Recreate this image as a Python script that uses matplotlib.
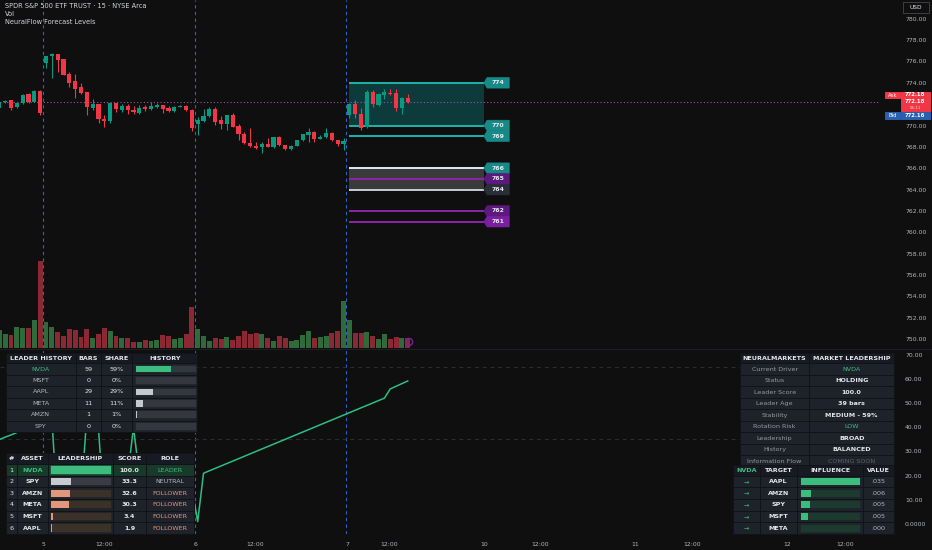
import matplotlib.pyplot as plt
import matplotlib.patches as mpatches
import numpy as np

# ---- price data (15 min bars, 0 = last bars of the day before "5") ----
opens = [771.61, 772.20, 772.39, 771.71, 772.08, 772.92, 772.24, 773.27,
         775.82, 776.51, 776.67, 776.20, 774.79, 774.17, 773.58, 773.11, 771.67, 772.02, 770.61,
         770.43, 772.11, 771.45, 771.86, 771.49, 771.21, 771.74, 771.55, 771.77, 771.92, 771.61,
         771.36, 771.77, 771.80, 771.49,
         770.11, 770.43, 770.89, 771.55, 770.49, 770.11, 770.99, 769.96, 769.21, 768.37, 768.12,
         767.96, 768.27, 768.02, 768.96, 768.15, 767.80, 768.08, 768.65, 769.11, 769.43, 768.74,
         768.93, 769.27, 768.65, 768.27,
         770.98, 772.01, 771.08, 769.83, 773.17, 771.92, 772.89, 773.08, 773.01, 771.67, 772.61]
highs = [772.24, 772.39, 772.42, 772.11, 772.92, 773.08, 773.30, 773.33,
         776.55, 776.76, 776.70, 776.24, 774.98, 774.79, 773.95, 773.15, 772.45, 772.05, 770.96,
         772.14, 772.14, 772.02, 772.02, 771.83, 771.89, 771.89, 772.24, 772.08, 771.96, 771.83,
         771.83, 771.92, 771.89, 771.55,
         770.83, 771.52, 771.77, 771.77, 770.89, 771.02, 771.21, 770.11, 769.43, 769.74, 768.49,
         768.49, 768.86, 768.93, 769.02, 768.18, 768.18, 768.68, 769.21, 769.74, 769.46, 769.11,
         769.74, 769.43, 768.65, 768.80,
         772.08, 772.39, 771.61, 773.32, 773.32, 773.01, 773.39, 773.45, 773.39, 772.64, 772.92]
lows = [771.55, 772.08, 771.45, 771.67, 772.02, 772.08, 772.20, 770.99,
        775.36, 774.42, 774.98, 774.70, 773.64, 772.55, 772.95, 770.99, 771.45, 770.27, 769.89,
        770.27, 771.27, 771.30, 771.05, 771.08, 771.08, 771.36, 771.45, 771.61, 771.21, 771.30,
        771.24, 771.71, 771.36, 769.52,
        769.11, 770.36, 770.77, 770.05, 769.65, 769.58, 769.83, 768.65, 768.27, 767.96, 767.77,
        767.46, 767.96, 767.93, 768.08, 767.74, 767.71, 768.05, 768.58, 768.49, 768.49, 768.71,
        768.86, 768.55, 768.08, 767.71,
        770.67, 770.67, 769.58, 769.74, 771.76, 771.86, 772.45, 772.83, 771.36, 771.08, 772.14]
closes = [772.20, 772.33, 771.61, 772.08, 772.86, 772.24, 773.23, 771.14,
          776.51, 776.70, 776.14, 774.73, 774.02, 773.39, 773.02, 771.71, 772.02, 770.58, 770.43,
          772.11, 771.55, 771.83, 771.45, 771.30, 771.67, 771.52, 771.86, 771.96, 771.52, 771.36,
          771.74, 771.86, 771.45, 769.74,
          770.52, 770.89, 771.55, 770.36, 770.11, 770.99, 769.89, 769.18, 768.33, 768.08, 767.93,
          768.27, 768.02, 768.90, 768.15, 767.77, 768.12, 768.65, 769.18, 769.43, 768.74, 768.96,
          769.30, 768.65, 768.27, 768.55,
          771.98, 771.05, 769.74, 773.17, 771.98, 772.92, 773.11, 772.92, 771.67, 772.61, 772.18]
volumes = [530, 410, 400, 620, 610, 590, 830, 2600,
           790, 620, 470, 350, 560, 530, 320, 560, 290, 410, 590, 520, 370, 310, 290, 190, 180,
           230, 210, 240, 400, 350, 260, 300, 410, 1220,
           560, 350, 210, 290, 280, 340, 250, 370, 520, 410, 440, 410, 290, 200, 350, 290, 210,
           250, 380, 500, 290, 330, 360, 460, 500, 1410,
           850, 460, 440, 480, 370, 260, 410, 280, 320, 310, 310]

# lower pane line (leader score)
leader_line = [34.9, 35.9, 36.8, 37.8, 38.7, 39.7, 40.6, 41.6, 42.5, 43.5,
               5.0, 6.2, 7.4, 8.6, 10.0, 45.0, 42.0, 39.0, 5.0, 8.0,
               11.0, 14.0, 20.0, 40.0, 20.0, 21.0, 22.0, 23.0, 24.0, 25.0,
               26.0, 27.0, 28.0, 15.0, 1.0, 21.0, 22.0, 23.0, 24.0, 25.0,
               26.0, 27.0, 28.0, 29.0, 30.0, 31.0, 32.0, 33.0, 34.0, 35.0,
               36.0, 37.0, 38.0, 39.0, 40.0, 41.0, 42.0, 43.0, 44.0, 45.0,
               46.0, 47.0, 48.0, 49.0, 50.0, 51.0, 52.0, 55.8, 56.9, 58.0, 59.1]

session_breaks = [7.5, 33.5, 59.5]
xtick_pos = [7.6, 17.9, 33.6, 43.9, 59.6, 66.9, 83.1, 92.7, 109.0, 118.7, 135.0, 145.0]
xtick_labels = ['5', '12:00', '6', '12:00', '7', '12:00', '10', '12:00', '11', '12:00', '12', '12:00']

ask_price = 772.18
bid_price = 772.16
countdown = '06:11'

# forecast levels
level_prices = [774, 770, 769, 766, 765, 764, 762, 761]
level_lines = ['#1fb3ab', '#1fb3ab', '#1fb3ab', '#d6eef0', '#8e24aa', '#c9ccd2', '#8e24aa', '#8e24aa']
level_tags = ['#178a88', '#178a88', '#178a88', '#178a88', '#5c1a7e', '#2a2e39', '#5c1a7e', '#7b1fa2']
zones = [(770, 774, '#0d3b3c'), (764, 766, '#3a3a3a')]
level_from, level_to = 60, 83

# tables
hist_assets = ['NVDA', 'MSFT', 'AAPL', 'META', 'AMZN', 'SPY']
hist_bars = [59, 0, 29, 11, 1, 0]

rank_assets = ['NVDA', 'SPY', 'AMZN', 'META', 'MSFT', 'AAPL']
rank_scores = [100.0, 33.3, 32.6, 30.3, 3.4, 1.9]
rank_roles = ['LEADER', 'NEUTRAL', 'FOLLOWER', 'FOLLOWER', 'FOLLOWER', 'FOLLOWER']

info_labels = ['Current Driver', 'Status', 'Leader Score', 'Leader Age', 'Stability',
               'Rotation Risk', 'Leadership', 'History', 'Information Flow']
info_values = ['NVDA', 'HOLDING', '100.0', '39 bars', 'MEDIUM - 59%', 'LOW', 'BROAD',
               'BALANCED', 'COMING SOON']

flow_targets = ['AAPL', 'AMZN', 'SPY', 'MSFT', 'META']
flow_values = [0.0352, 0.0062, 0.0053, 0.0046, 0.0001]

# ---- style ----
BG = '#0f0f0f'
UP = '#089981'
DOWN = '#f23645'
GREEN = '#3dbd7d'
TXT = '#b2b5be'
WHITE = '#e6e7ea'
HEAD = '#171a22'
ROW = '#1e222b'
EDGE = '#111317'
SALMON = '#e2967b'

W, H = 932, 550
fig = plt.figure(figsize=(W / 100, H / 100), dpi=100, facecolor=BG)


def box(l, t, r, b):
    return [l / W, 1 - b / H, (r - l) / W, (b - t) / H]


ax_vol = fig.add_axes(box(0, 0, 880, 348))
ax = fig.add_axes(box(0, 0, 880, 348))
ax_low = fig.add_axes(box(0, 349, 880, 534))
ax_px = fig.add_axes([0, 0, 1, 1])

xlim = (0.115, 150.95)
for a in (ax_vol, ax, ax_low):
    a.set_xlim(*xlim)
    a.set_facecolor('none')
    for s in a.spines.values():
        s.set_visible(False)
ax_vol.set_facecolor(BG)
ax_vol.set_xticks([])
ax_vol.set_yticks([])
ax.set_xticks([])

idx = np.arange(len(opens))
o = np.array(opens)
c = np.array(closes)
cols = np.where(c >= o, UP, DOWN)

# volume
vcols = np.where(c >= o, '#2f6b3a', '#8c2833')
ax_vol.bar(idx, volumes, width=0.85, color=vcols)
ax_vol.set_ylim(0, 10400)

# candles
ax.vlines(idx, lows, highs, colors=cols, lw=0.8, zorder=3)
ax.bar(idx, np.maximum(np.abs(c - o), 0.05), bottom=np.minimum(o, c), width=0.72,
       color=cols, zorder=4)
ax.set_ylim(749.17, 781.75)
ax.yaxis.tick_right()
ax.set_yticks(np.arange(750, 781, 2))
ax.set_yticklabels([f'{v:.2f}' for v in np.arange(750, 781, 2)])
ax.tick_params(axis='y', length=0, pad=18, labelsize=4.4, labelcolor=TXT)

ax.axhline(closes[-1], color='#9b4fae', ls=(0, (1, 2)), lw=0.8, zorder=2)
for xb in session_breaks:
    ax.axvline(xb, color='#2f62c8', ls=(0, (3, 3)), lw=0.8, zorder=1)
    ax_low.axvline(xb, color='#2f62c8', ls=(0, (3, 3)), lw=0.8, zorder=1)

# forecast zones and levels
for lo, hi, fc in zones:
    ax.fill_between([level_from, level_to], lo, hi, color=fc, zorder=1.5, lw=0)
for p, lc, tc in zip(level_prices, level_lines, level_tags):
    ax.hlines(p, level_from, level_to, colors=lc, lw=1.4, zorder=2.5)
    ax.add_patch(mpatches.Polygon([(level_to + 0.05, p), (level_to + 0.6, p + 0.5),
                                   (level_to + 4.4, p + 0.5), (level_to + 4.4, p - 0.5),
                                   (level_to + 0.6, p - 0.5)],
                                  closed=True, facecolor=tc, edgecolor=tc, lw=0.4, zorder=5))
    ax.text(level_to + 2.5, p, f'{p}', color='#e8eaed', fontsize=4.4, fontweight='bold',
            ha='center', va='center', zorder=6)

# lower pane
ax_low.plot(idx, leader_line, color='#2ebd85', lw=1.1, zorder=3)
for lv in (35, 65):
    ax_low.axhline(lv, color='#2a2e39', ls=(0, (4, 4)), lw=0.7, zorder=1)
ax_low.set_ylim(-4.1, 72.3)
ax_low.yaxis.tick_right()
ax_low.set_yticks(np.arange(0, 71, 10))
ax_low.set_yticklabels(['0.0000'] + [f'{v:.2f}' for v in np.arange(10, 71, 10)])
ax_low.tick_params(axis='y', length=0, pad=18, labelsize=4.4, labelcolor=TXT)
ax_low.set_xticks(xtick_pos)
ax_low.set_xticklabels(xtick_labels)
ax_low.tick_params(axis='x', length=0, pad=5.5, labelsize=4.4, labelcolor=TXT)

# ---- pixel overlay ----
ax_px.set_xlim(0, W)
ax_px.set_ylim(H, 0)
ax_px.axis('off')
ax_px.patch.set_alpha(0)

ax_px.plot([0, W], [348.5, 348.5], color='#1c1f26', lw=0.8)


def cell(x0, y0, x1, y1, fc, ec=EDGE, lw=0.7):
    ax_px.add_patch(mpatches.Rectangle((x0, y0), x1 - x0, y1 - y0, facecolor=fc,
                                       edgecolor=ec, lw=lw))


def txt(x, y, s, color=TXT, bold=False, size=4.6, ha='center'):
    ax_px.text(x, y, s, color=color, fontsize=size, ha=ha, va='center',
               fontweight='bold' if bold else 'normal')


def grid(xs, top, head_h, row_h, nrows, row_fc=None):
    ys = [top, top + head_h] + [top + head_h + row_h * (k + 1) for k in range(nrows)]
    for r in range(nrows + 1):
        fc = HEAD if r == 0 else (row_fc[r - 1] if row_fc else ROW)
        for k in range(len(xs) - 1):
            cell(xs[k], ys[r], xs[k + 1], ys[r + 1], fc)
    return ys


def mid(v, k):
    return (v[k] + v[k + 1]) / 2


# header texts
txt(5, 6.3, 'SPDR S&P 500 ETF TRUST · 15 · NYSE Arca', '#d1d4dc', size=4.8, ha='left')
txt(5, 14.2, 'Vol', '#d1d4dc', size=4.8, ha='left')
txt(5, 21.6, 'NeuralFlow Forecast Levels', '#d1d4dc', size=4.8, ha='left')

# USD box and price tags
cell(902.7, 1.7, 929, 12.7, BG, ec='#434651', lw=0.6)
txt(915.8, 7.2, 'USD', WHITE, size=4.2)
cell(885, 91.7, 900, 98.5, DOWN, ec=DOWN)
txt(892.5, 95.1, 'Ask', 'white', size=3.8)
cell(900.5, 91.7, 930, 111.5, DOWN, ec=DOWN)
txt(915, 94.9, f'{ask_price:.2f}', 'white', bold=True, size=3.8)
txt(915, 101.2, f'{closes[-1]:.2f}', 'white', bold=True, size=3.8)
txt(915, 108.0, countdown, '#ffd6d9', size=2.9)
cell(885, 112.3, 900, 119.2, '#2b5fb0', ec='#2b5fb0')
txt(892.5, 115.8, 'Bid', 'white', size=3.8)
cell(900.5, 112.3, 930, 119.2, '#2b5fb0', ec='#2b5fb0')
txt(915, 115.8, f'{bid_price:.2f}', 'white', bold=True, size=3.8)
ax_px.add_patch(mpatches.Circle((409, 342), 3.6, facecolor='none', edgecolor='#7b1fa2', lw=1))

# table 1: leader history
xs = [5.7, 76, 100.7, 132.3, 197.3]
ys = grid(xs, 352.7, 10.6, 11.45, len(hist_assets))
for k, h in enumerate(['LEADER HISTORY', 'BARS', 'SHARE', 'HISTORY']):
    txt(mid(xs, k), mid(ys, 0), h, WHITE, bold=True)
total = sum(hist_bars)
for r, (a, b) in enumerate(zip(hist_assets, hist_bars)):
    cy = mid(ys, r + 1)
    share = b / total
    txt(mid(xs, 0), cy, a, GREEN if r == 0 else TXT)
    txt(mid(xs, 1), cy, str(b), WHITE)
    txt(mid(xs, 2), cy, f'{share * 100:.0f}%', WHITE)
    bx0, bx1 = xs[3] + 3.7, xs[4] - 1.3
    cell(bx0, ys[r + 1] + 2.3, bx1, ys[r + 2] - 2.3, '#34373f', ec='#34373f', lw=0.3)
    if b:
        cell(bx0, ys[r + 1] + 2.3, bx0 + share * (bx1 - bx0), ys[r + 2] - 2.3,
             GREEN if r == 0 else '#c5c8ce', ec='none', lw=0)

# table 2: ranking
xs = [5.7, 17.3, 47.7, 113.3, 145.7, 193.7]
ys = grid(xs, 453.3, 10.9, 11.6, len(rank_assets),
          row_fc=['#173a2b'] + [ROW] * (len(rank_assets) - 1))
for k, h in enumerate(['#', 'ASSET', 'LEADERSHIP', 'SCORE', 'ROLE']):
    txt(mid(xs, k), mid(ys, 0), h, WHITE, bold=True)
role_col = {'LEADER': GREEN, 'NEUTRAL': TXT, 'FOLLOWER': SALMON}
for r, (a, s, role) in enumerate(zip(rank_assets, rank_scores, rank_roles)):
    cy = mid(ys, r + 1)
    txt(mid(xs, 0), cy, str(r + 1), WHITE)
    txt(mid(xs, 1), cy, a, GREEN if role == 'LEADER' else WHITE, bold=True)
    txt(mid(xs, 3), cy, f'{s:.1f}', WHITE, bold=True)
    txt(mid(xs, 4), cy, role, role_col[role])
    bx0, bx1 = xs[2] + 3.3, xs[3] - 2.6
    fill = {'LEADER': GREEN, 'NEUTRAL': '#c8cad0', 'FOLLOWER': SALMON}[role]
    back = {'LEADER': GREEN, 'NEUTRAL': '#393c45', 'FOLLOWER': '#3a3129'}[role]
    cell(bx0, ys[r + 1] + 2.2, bx1, ys[r + 2] - 2.2, back, ec=back, lw=0.3)
    cell(bx0, ys[r + 1] + 2.2, bx0 + s / 100 * (bx1 - bx0), ys[r + 2] - 2.2, fill,
         ec='none', lw=0)

# table 3: market leadership
xs = [740, 809.3, 894]
ys = grid(xs, 353.3, 10.0, 11.5, len(info_labels))
txt(mid(xs, 0), mid(ys, 0), 'NEURALMARKETS', WHITE, bold=True)
txt(mid(xs, 1), mid(ys, 0), 'MARKET LEADERSHIP', WHITE, bold=True)
for r, (lab, val) in enumerate(zip(info_labels, info_values)):
    cy = mid(ys, r + 1)
    txt(mid(xs, 0), cy, lab, '#9598a1')
    if val in ('NVDA', 'LOW'):
        txt(mid(xs, 1), cy, val, GREEN)
    elif val == 'COMING SOON':
        txt(mid(xs, 1), cy, val, '#5d606b')
    else:
        txt(mid(xs, 1), cy, val, WHITE, bold=True)

# table 4: information flow
xs = [732.7, 760, 796.7, 863.3, 894]
ys = grid(xs, 465, 10.7, 11.65, len(flow_targets))
for k, h in enumerate(['NVDA', 'TARGET', 'INFLUENCE', 'VALUE']):
    txt(mid(xs, k), mid(ys, 0), h, GREEN if k == 0 else WHITE, bold=True)
vmax = max(flow_values)
for r, (t, v) in enumerate(zip(flow_targets, flow_values)):
    cy = mid(ys, r + 1)
    txt(mid(xs, 0), cy, '→', GREEN)
    txt(mid(xs, 1), cy, t, WHITE, bold=True)
    txt(mid(xs, 3), cy, f'{v:.3f}'[1:], TXT)
    bx0, bx1 = xs[2] + 4, xs[3] - 3.3
    cell(bx0, ys[r + 1] + 2.2, bx1, ys[r + 2] - 2.2, '#1c3a2e', ec='#1c3a2e', lw=0.3)
    cell(bx0, ys[r + 1] + 2.2, bx0 + v / vmax * (bx1 - bx0), ys[r + 2] - 2.2, GREEN,
         ec='none', lw=0)

fig.savefig('out.png', dpi=100, facecolor=BG)
